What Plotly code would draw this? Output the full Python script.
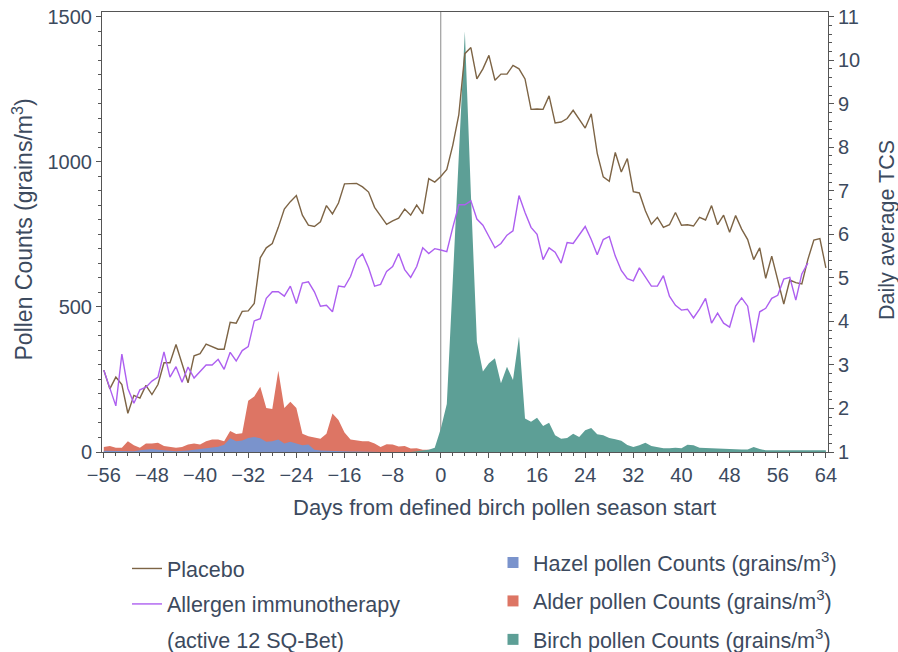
import plotly.graph_objects as go

# ---------------- data ----------------
days = list(range(-56, 65))
days_ait = list(range(-56, 62))

placebo_tcs = [
    2.88, 2.45, 2.72, 2.55, 1.89, 2.30, 2.24, 2.53, 2.32, 2.55,   # -56..-47
    3.05, 3.05, 3.47, 3.02, 2.59, 3.21, 3.26, 3.48, 3.42, 3.36,   # -46..-37
    3.36, 3.98, 3.96, 4.23, 4.24, 4.41, 5.46, 5.69, 5.79, 6.16,   # -36..-27
    6.58, 6.75, 6.89, 6.44, 6.21, 6.18, 6.29, 6.66, 6.47, 6.72,   # -26..-17
    7.16, 7.16, 7.17, 7.09, 6.97, 6.62, 6.43, 6.23, 6.31, 6.37,   # -16..-7
    6.58, 6.44, 6.67, 6.47, 7.28, 7.20, 7.33, 7.49, 8.05, 8.75,   # -6..3
    10.15, 10.29, 9.57, 9.80, 10.11, 9.54, 9.68, 9.68, 9.88, 9.80,  # 4..13
    9.57, 8.87, 8.88, 8.87, 9.18, 8.56, 8.58, 8.66, 8.85, 8.64,   # 14..23
    8.44, 8.77, 7.86, 7.32, 7.22, 7.88, 7.43, 7.74, 6.98, 6.95,   # 24..33
    6.54, 6.23, 6.39, 6.16, 6.22, 6.50, 6.21, 6.22, 6.19, 6.39,   # 34..43
    6.33, 6.66, 6.22, 6.44, 6.05, 6.43, 6.12, 5.88, 5.42, 5.69,   # 44..53
    4.99, 5.50, 4.97, 4.40, 4.95, 4.89, 4.86, 5.42, 5.87, 5.90,   # 54..63
    5.23,                                                         # 64
]

ait_tcs = [
    2.88, 2.46, 2.06, 3.25, 2.46, 2.12, 2.43, 2.49, 2.63, 2.72,   # -56..-47
    3.30, 2.72, 2.96, 2.60, 2.95, 2.70, 2.86, 3.00, 3.00, 3.13,   # -46..-37
    2.90, 3.29, 3.09, 3.33, 3.42, 4.01, 4.06, 4.53, 4.68, 4.68,   # -36..-27
    4.58, 4.81, 4.41, 4.88, 4.91, 4.68, 4.35, 4.37, 4.22, 4.81,   # -26..-17
    4.79, 5.03, 5.42, 5.55, 5.23, 4.81, 4.85, 5.15, 5.26, 5.56,   # -16..-7
    5.19, 5.01, 5.26, 5.69, 5.56, 5.67, 5.64, 5.60, 6.16, 6.68,   # -6..3
    6.68, 6.77, 6.35, 6.21, 5.95, 5.69, 5.79, 5.98, 6.08, 6.89,   # 4..13
    6.50, 6.16, 6.00, 5.42, 5.69, 5.59, 5.34, 5.81, 5.79, 5.98,   # 14..23
    6.18, 5.88, 5.53, 5.88, 5.95, 5.50, 5.17, 4.98, 4.93, 5.23,   # 24..33
    5.02, 4.81, 4.81, 5.05, 4.58, 4.37, 4.26, 4.28, 4.08, 4.28,   # 34..43
    4.53, 3.96, 4.19, 3.96, 3.87, 4.35, 4.54, 4.35, 3.52, 4.22,   # 44..53
    4.30, 4.53, 4.60, 4.97, 5.01, 4.49, 5.09, 5.34,               # 54..61
]

hazel_counts = [
    4, 4, 3, 3, 4, 3, 6, 9, 10, 8,          # -56..-47
    5, 4, 3, 3, 5, 8, 10, 12, 15, 18,       # -46..-37
    25, 47, 37, 40, 48, 52, 47, 35, 37, 43, # -36..-27
    29, 35, 29, 23, 26, 8, 5, 4, 4, 3,      # -26..-17
    3, 2, 2, 1, 0, 0, 0, 0, 0, 0,           # -16..-7
] + [0] * 71                                # -6..64

alder_counts = [
    17, 21, 15, 15, 37, 23, 15, 29, 29, 32,          # -56..-47
    21, 19, 15, 17, 26, 29, 26, 37, 43, 43,          # -46..-37
    37, 72, 62, 65, 177, 191, 225, 152, 148, 280,    # -36..-27
    152, 173, 152, 63, 54, 50, 46, 63, 133, 110,     # -26..-17
    67, 43, 40, 37, 37, 29, 17, 27, 26, 19,          # -16..-7
    21, 12, 13, 8, 8, 8, 5, 3, 3, 3,                 # -6..3
    3, 3, 3, 3, 3, 3, 2, 2, 1, 1,                    # 4..13
] + [0] * 51                                         # 14..64

birch_counts = [0] * 52 + [                          # -56..-5
    3, 5, 8, 15, 80, 165, 590, 1010,                 # -4..3
    1450, 890, 380, 277, 306, 323, 237, 294, 248, 398,  # 4..13
    115, 104, 118, 90, 101, 58, 46, 48, 63, 52,      # 14..23
    75, 83, 61, 58, 48, 44, 39, 24, 17, 23,          # 24..33
    32, 21, 17, 13, 13, 15, 13, 25, 23, 15,          # 34..43
    14, 13, 13, 10, 10, 9, 9, 9, 17, 10,             # 44..53
    6, 6, 6, 6, 6, 6, 6, 6, 6, 6, 6,                 # 54..64
]

season_start = 0
x_tick_step = 8
y_left_tick_step = 500
y_right_tick_step = 1

# ---------------- style ----------------
TXT = "#3c4a5e"
FONT = "Liberation Sans, Arial, sans-serif"
C_PLACEBO = "#7d6445"
C_AIT = "#ad5ff0"
C_HAZEL = "#7a93cc"
C_ALDER = "#dd7564"
C_BIRCH = "#5d9f96"
AXC = "#555555"

fig = go.Figure()

# pollen areas (left axis)
fig.add_trace(go.Scatter(x=days, y=alder_counts, mode="lines", fill="tozeroy",
                         line=dict(width=0, color=C_ALDER), fillcolor=C_ALDER,
                         showlegend=False, hoverinfo="skip"))
fig.add_trace(go.Scatter(x=days, y=hazel_counts, mode="lines", fill="tozeroy",
                         line=dict(width=0, color=C_HAZEL), fillcolor=C_HAZEL,
                         showlegend=False, hoverinfo="skip"))
fig.add_trace(go.Scatter(x=days, y=birch_counts, mode="lines", fill="tozeroy",
                         line=dict(width=0, color=C_BIRCH), fillcolor=C_BIRCH,
                         showlegend=False, hoverinfo="skip"))

# TCS lines (right axis)
fig.add_trace(go.Scatter(x=days, y=placebo_tcs, mode="lines", yaxis="y2",
                         line=dict(color=C_PLACEBO, width=1.4),
                         name="Placebo", legend="legend", legendgroup="a"))
fig.add_trace(go.Scatter(x=days_ait, y=ait_tcs, mode="lines", yaxis="y2",
                         line=dict(color=C_AIT, width=1.4),
                         name="Allergen immunotherapy", legend="legend", legendgroup="b"))
fig.add_trace(go.Scatter(x=[None], y=[None], mode="lines", yaxis="y2",
                         line=dict(color="rgba(0,0,0,0)", width=0),
                         name="(active 12 SQ-Bet)", legend="legend", legendgroup="c"))

# legend-only square swatches for the pollen areas
for nm, col, grp in [("Hazel", C_HAZEL, "d"), ("Alder", C_ALDER, "e"), ("Birch", C_BIRCH, "f")]:
    fig.add_trace(go.Scatter(x=[None], y=[None], mode="markers",
                             marker=dict(symbol="square", size=11, color=col),
                             name=f"{nm} pollen Counts (grains/m<sup>3</sup>)",
                             legend="legend2", legendgroup=grp))

fig.add_shape(type="line", x0=season_start, x1=season_start, xref="x",
              y0=0, y1=1, yref="paper", line=dict(color="#8a8a8a", width=1), layer="below")

tickfont = dict(family=FONT, size=20, color=TXT)
LEGEND_FS = 21.5

fig.update_layout(
    width=898, height=652,
    margin=dict(l=102, r=70, t=12, b=200, autoexpand=False),
    paper_bgcolor="white", plot_bgcolor="white",
    font=dict(family=FONT, color=TXT, size=20),
    xaxis=dict(range=[-56.3, 64.35], tickmode="linear", tick0=0, dtick=x_tick_step,
               ticks="outside", ticklen=5, tickangle=0, automargin=False,
               tickcolor=AXC, showline=True, linecolor=AXC, linewidth=1, mirror=True,
               showgrid=False, zeroline=False, tickfont=tickfont,
               minor=dict(dtick=2, ticks="outside", ticklen=3, tickcolor=AXC)),
    yaxis=dict(range=[0, 1516], tickmode="linear", tick0=0, dtick=y_left_tick_step,
               ticks="outside", ticklen=5, automargin=False,
               tickcolor=AXC, showline=True, linecolor=AXC, linewidth=1,
               showgrid=False, zeroline=False, tickfont=tickfont,
               minor=dict(dtick=50, ticks="outside", ticklen=3, tickcolor=AXC)),
    yaxis2=dict(range=[1, 1 + 1516 / 150], tickmode="linear", tick0=1, dtick=y_right_tick_step,
                overlaying="y", side="right", automargin=False,
                ticks="outside", ticklen=5, tickcolor=AXC, showline=True, linecolor=AXC,
                linewidth=1, showgrid=False, zeroline=False, tickfont=tickfont,
                minor=dict(dtick=0.2, ticks="outside", ticklen=3, tickcolor=AXC)),
    legend=dict(xref="container", yref="container", x=127 / 898, y=1 - 548 / 652,
                xanchor="left", yanchor="top", traceorder="grouped", tracegroupgap=4.5,
                font=dict(family=FONT, size=LEGEND_FS, color=TXT), bgcolor="rgba(0,0,0,0)"),
    legend2=dict(xref="container", yref="container", x=493 / 898, y=1 - 542 / 652,
                 xanchor="left", yanchor="top", traceorder="grouped", tracegroupgap=7.5,
                 font=dict(family=FONT, size=LEGEND_FS, color=TXT), bgcolor="rgba(0,0,0,0)"),
    annotations=[
        dict(text="Days from defined birch pollen season start", xref="paper", yref="paper",
             x=0.554, y=-0.127, xanchor="center", yanchor="middle", showarrow=False,
             font=dict(family=FONT, size=22, color=TXT)),
        dict(text="Pollen Counts (grains/m<sup>3</sup>)", xref="paper", yref="paper",
             x=-0.1088, y=0.5057, xanchor="center", yanchor="middle", textangle=-90,
             showarrow=False, font=dict(family=FONT, size=23, color=TXT)),
        dict(text="Daily average TCS", xref="paper", yref="paper",
             x=1.0813, y=0.5045, xanchor="center", yanchor="middle", textangle=-90,
             showarrow=False, font=dict(family=FONT, size=21.5, color=TXT)),
    ],
)

fig.write_html("out.html", config={"displayModeBar": False},
               post_script="document.body.style.margin='0';document.body.style.overflow='hidden';")
